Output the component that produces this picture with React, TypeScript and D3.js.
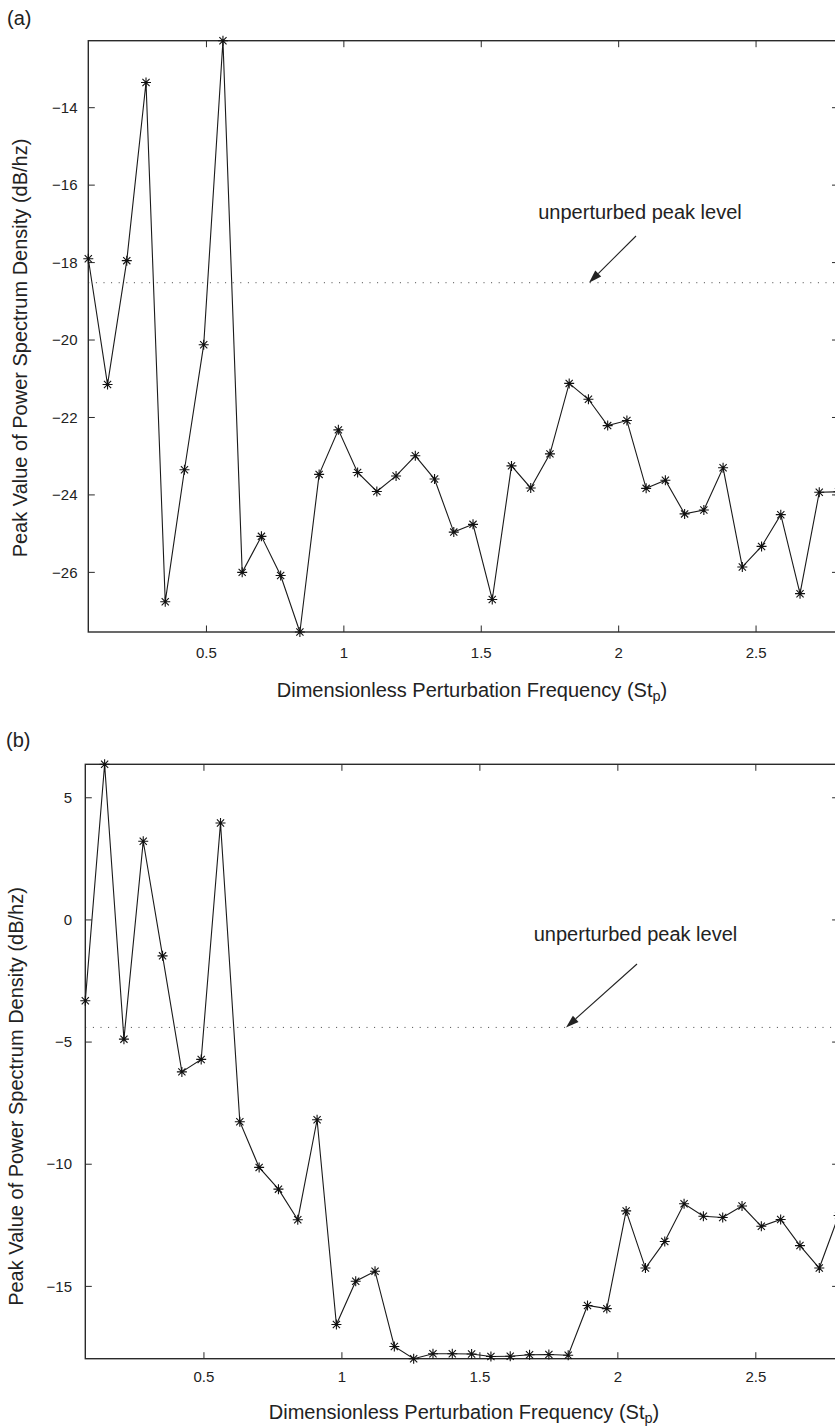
import React from "react";
import * as d3 from "d3";

// ---- data ----
const freq = [
  0.07, 0.14, 0.21, 0.28, 0.35, 0.42, 0.49, 0.56, 0.63, 0.7,
  0.77, 0.84, 0.91, 0.98, 1.05, 1.12, 1.19, 1.26, 1.33, 1.4,
  1.47, 1.54, 1.61, 1.68, 1.75, 1.82, 1.89, 1.96, 2.03, 2.1,
  2.17, 2.24, 2.31, 2.38, 2.45, 2.52, 2.59, 2.66, 2.73, 2.8,
];

const peakA = [
  -17.9, -21.15, -17.95, -13.35, -26.76, -23.35, -20.12, -12.27, -26.0, -25.07,
  -26.08, -27.54, -23.47, -22.32, -23.42, -23.91, -23.51, -22.99, -23.59, -24.96,
  -24.76, -26.7, -23.25, -23.82, -22.94, -21.12, -21.53, -22.21, -22.08, -23.83,
  -23.62, -24.49, -24.39, -23.3, -25.86, -25.33, -24.51, -26.55, -23.93, -23.92,
];

const peakB = [
  -3.31, 6.37, -4.88, 3.22, -1.47, -6.22, -5.71, 3.97, -8.26, -10.13,
  -11.02, -12.27, -8.18, -16.56, -14.79, -14.38, -17.46, -17.96, -17.76, -17.76,
  -17.77, -17.87, -17.86, -17.8, -17.79, -17.82, -15.78, -15.91, -11.91, -14.25,
  -13.16, -11.62, -12.13, -12.18, -11.71, -12.54, -12.26, -13.33, -14.25, -12.1,
];

const unperturbedA = -18.52;
const unperturbedB = -4.4;

const xTicks = [0.5, 1, 1.5, 2, 2.5];
const yTicksA = [-26, -24, -22, -20, -18, -16, -14];
const yTicksB = [-15, -10, -5, 0, 5];

const xLabel = "Dimensionless Perturbation Frequency (St";
const yLabel = "Peak Value of Power Spectrum Density (dB/hz)";
const annText = "unperturbed peak level";

const FONT = "'Liberation Sans', Arial, Helvetica, sans-serif";
const INK = "#222";

type PanelCfg = {
  tag: string;
  values: number[];
  ref: number;
  yTicks: number[];
  left: number;
  right: number;
  top: number;
  bottom: number;
  tagPos: [number, number];
  yLabelPos: [number, number];
  yTickEnd: number;
  xTickBase: number;
  xLabelPos: [number, number];
  annPos: [number, number];
  arrowFrom: [number, number];
  arrowToX: number;
};

const panels: PanelCfg[] = [
  {
    tag: "(a)",
    values: peakA,
    ref: unperturbedA,
    yTicks: yTicksA,
    left: 88.3,
    right: 838.5,
    top: 40.7,
    bottom: 632,
    tagPos: [7, 25],
    yLabelPos: [26.5, 348],
    yTickEnd: 77.5,
    xTickBase: 658,
    xLabelPos: [472, 697],
    annPos: [640, 218.5],
    arrowFrom: [636, 236],
    arrowToX: 589,
  },
  {
    tag: "(b)",
    values: peakB,
    ref: unperturbedB,
    yTicks: yTicksB,
    left: 85.3,
    right: 838.6,
    top: 764.3,
    bottom: 1358.7,
    tagPos: [6, 747],
    yLabelPos: [23, 1096.5],
    yTickEnd: 72,
    xTickBase: 1381.5,
    xLabelPos: [464, 1419],
    annPos: [635.5, 940.7],
    arrowFrom: [637, 964],
    arrowToX: 566,
  },
];

const fmt = (v: number) => (v < 0 ? "\u2212" + String(-v) : String(v));

const STAR = "M-5,0H5M0,-5V5M-3.6,-3.6L3.6,3.6M-3.6,3.6L3.6,-3.6";

function Panel({ cfg }: { cfg: PanelCfg }) {
  const x = d3.scaleLinear().domain(d3.extent(freq) as [number, number]).range([cfg.left, cfg.right]);
  const y = d3
    .scaleLinear()
    .domain(d3.extent(cfg.values) as [number, number])
    .range([cfg.bottom, cfg.top]);
  const pts: [number, number][] = freq.map((f, i) => [f, cfg.values[i]]);
  const line = d3
    .line<[number, number]>()
    .x((d) => x(d[0]))
    .y((d) => y(d[1]));
  const tl = 6.5;
  const refY = y(cfg.ref);

  // arrow
  const [ax, ay] = cfg.arrowFrom;
  const bx = cfg.arrowToX;
  const by = refY;
  const ang = Math.atan2(by - ay, bx - ax);
  const hl = 13;
  const hw = 4.2;
  const baseX = bx - hl * Math.cos(ang);
  const baseY = by - hl * Math.sin(ang);
  const px = -Math.sin(ang) * hw;
  const py = Math.cos(ang) * hw;
  const head = `M${bx},${by}L${baseX + px},${baseY + py}L${baseX - px},${baseY - py}Z`;

  return (
    <g>
      <text x={cfg.tagPos[0]} y={cfg.tagPos[1]} fontSize={20} fill={INK} fontFamily={FONT}>
        {cfg.tag}
      </text>
      {/* reference dotted line */}
      <line
        x1={cfg.left}
        x2={cfg.right}
        y1={refY}
        y2={refY}
        stroke="#444"
        strokeWidth={1}
        strokeDasharray="1,6.6"
      />
      {/* axes box */}
      <rect
        x={cfg.left}
        y={cfg.top}
        width={cfg.right - cfg.left}
        height={cfg.bottom - cfg.top}
        fill="none"
        stroke="#2a2a2a"
        strokeWidth={1.4}
      />
      {xTicks.map((t) => (
        <g key={"x" + t}>
          <line x1={x(t)} x2={x(t)} y1={cfg.bottom} y2={cfg.bottom - tl} stroke="#2a2a2a" strokeWidth={1} />
          <line x1={x(t)} x2={x(t)} y1={cfg.top} y2={cfg.top + tl} stroke="#2a2a2a" strokeWidth={1} />
          <text x={x(t)} y={cfg.xTickBase} textAnchor="middle" fontSize={15} fill={INK} fontFamily={FONT}>
            {fmt(t)}
          </text>
        </g>
      ))}
      {cfg.yTicks.map((t) => (
        <g key={"y" + t}>
          <line x1={cfg.left} x2={cfg.left + tl} y1={y(t)} y2={y(t)} stroke="#2a2a2a" strokeWidth={1} />
          <line x1={cfg.right} x2={cfg.right - tl} y1={y(t)} y2={y(t)} stroke="#2a2a2a" strokeWidth={1} />
          <text x={cfg.yTickEnd} y={y(t) + 5.2} textAnchor="end" fontSize={15} fill={INK} fontFamily={FONT}>
            {fmt(t)}
          </text>
        </g>
      ))}
      {/* data */}
      <path d={line(pts) || ""} fill="none" stroke="#1a1a1a" strokeWidth={1.1} />
      {pts.map((p, i) => (
        <path
          key={"m" + i}
          d={STAR}
          transform={`translate(${x(p[0])},${y(p[1])})`}
          fill="none"
          stroke="#111"
          strokeWidth={1.1}
        />
      ))}
      {/* annotation */}
      <text x={cfg.annPos[0]} y={cfg.annPos[1]} textAnchor="middle" fontSize={20} fill={INK} fontFamily={FONT}>
        {annText}
      </text>
      <line x1={ax} y1={ay} x2={baseX} y2={baseY} stroke="#222" strokeWidth={1.1} />
      <path d={head} fill="#222" />
      {/* labels */}
      <text x={cfg.xLabelPos[0]} y={cfg.xLabelPos[1]} textAnchor="middle" fontSize={20} fill={INK} fontFamily={FONT}>
        {xLabel}
        <tspan fontSize={14.5} dy={4}>
          p
        </tspan>
        <tspan dy={-4}>)</tspan>
      </text>
      <text
        transform={`translate(${cfg.yLabelPos[0]},${cfg.yLabelPos[1]}) rotate(-90)`}
        textAnchor="middle"
        fontSize={20}
        fill={INK}
        fontFamily={FONT}
      >
        {yLabel}
      </text>
    </g>
  );
}

export default function App() {
  return (
    <svg width={835} height={1426} style={{ position: "absolute", left: 0, top: 0, background: "#fff" }}>
      <rect width={835} height={1426} fill="#fff" />
      {panels.map((p) => (
        <Panel key={p.tag} cfg={p} />
      ))}
    </svg>
  );
}
